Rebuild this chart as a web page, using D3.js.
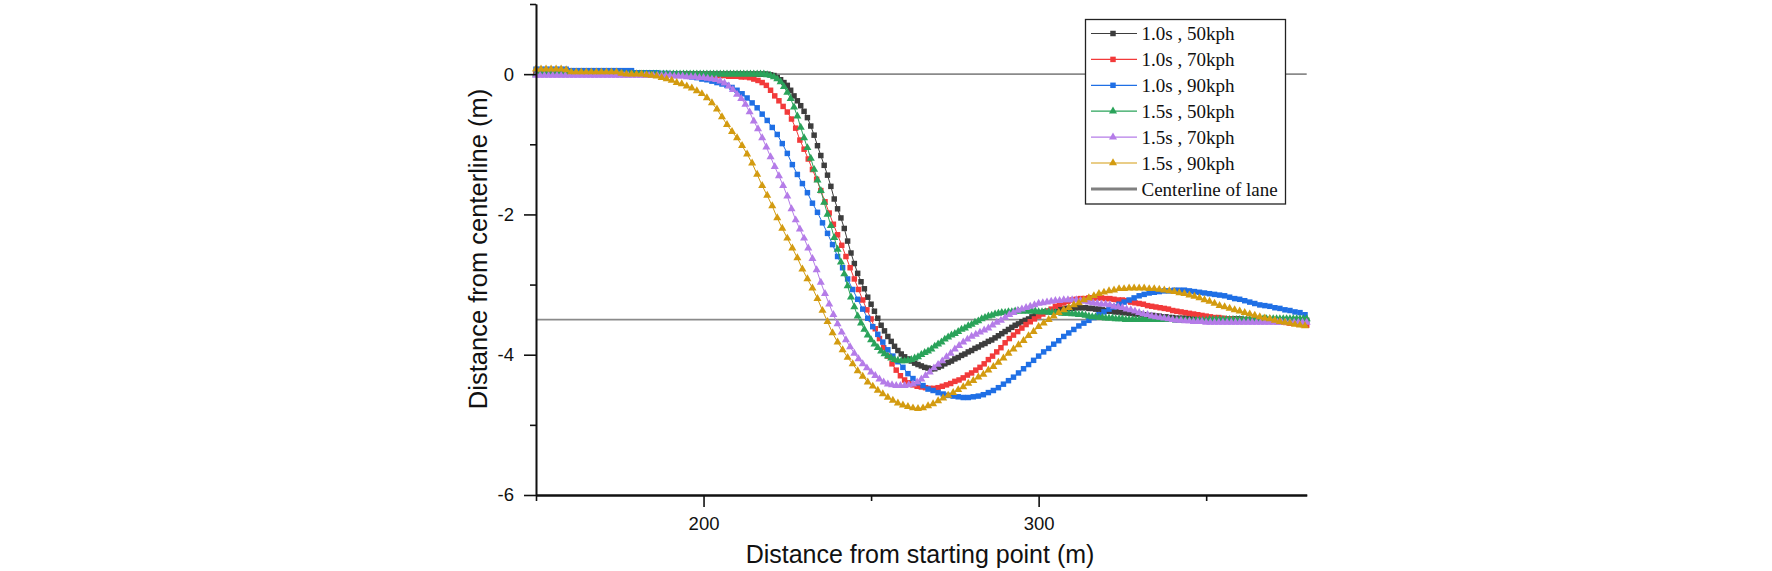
<!DOCTYPE html>
<html><head><meta charset="utf-8">
<script src="https://cdn.jsdelivr.net/npm/d3@7"></script>
<style>
html,body{margin:0;padding:0;background:#fff;}
svg{display:block;}
</style>
</head><body>
<svg id="chart" width="1772" height="571"></svg>
<script>
// ---------- data ----------
const seriesNames = ["1.0s , 50kph","1.0s , 70kph","1.0s , 90kph","1.5s , 50kph","1.5s , 70kph","1.5s , 90kph"];
const seriesColors = ["#3d3d3d","#f23a3a","#1f6fe5","#2aa35a","#b57ce8","#d39b10"];
const seriesMarkers = ["square","square","square","triangle","triangle","triangle"];
const seriesXStart = [150,150,150,150,150,150];
const seriesXStep = [1,1.25,1.5,1,1.25,1.5];
const centerlineValues = [0,-3.5];
const xMajorTicks = [200,300];
const xMinorTicks = [150,250,350];
const yMajorTicks = [-6,-4,-2,0];
const yMinorTicks = [-5,-3,-1,1];

const y_10_50 = [
0,0,0,0,0,0,0,0,0,0, 0,0,0,0,0,0,0,0,0,0, 0,0,0,0,0,0,0,0,0,0, 0,0,0,0,0,0,0,0,0,0,
0,0,0,0,0,0,0,0,0,0, 0,0,0,0,0,0,0,0,0,0, 0,0,0,0,0,0,0,0,0,0,
-0.01,-0.02,-0.05,-0.08,-0.12,-0.16,-0.23,-0.31,-0.38,-0.45,
-0.53,-0.62,-0.74,-0.87,-1.02,-1.16,-1.30,-1.44,-1.60,-1.78,
-1.92,-2.05,-2.20,-2.38,-2.55,-2.70,-2.84,-2.96,-3.06,-3.18,
-3.28,-3.38,-3.48,-3.58,-3.66,-3.74,-3.81,-3.88,-3.94,-3.99,
-4.03,-4.06,-4.09,-4.12,-4.14,-4.16,-4.18,-4.19,-4.20,-4.20,
-4.18,-4.16,-4.13,-4.11,-4.09,-4.06,-4.04,-4.01,-3.99,-3.96,
-3.94,-3.91,-3.89,-3.86,-3.84,-3.81,-3.79,-3.76,-3.73,-3.70,
-3.67,-3.64,-3.61,-3.58,-3.56,-3.53,-3.51,-3.49,-3.46,-3.44,
-3.42,-3.40,-3.39,-3.38,-3.37,-3.36,-3.35,-3.35,-3.34,-3.34,
-3.34,-3.33,-3.33,-3.33,-3.33,-3.34,-3.34,-3.35,-3.35,-3.36,
-3.37,-3.38,-3.38,-3.39,-3.39,-3.40,-3.40,-3.41,-3.41,-3.42,
-3.42,-3.43,-3.43,-3.44,-3.44,-3.45,-3.45,-3.46,-3.46,-3.47,
-3.47,-3.48,-3.48,-3.48,-3.48,-3.48,-3.48,-3.48,-3.48,-3.48,
-3.48,-3.49,-3.49,-3.49,-3.49,-3.49,-3.49,-3.49,-3.49,-3.49,
-3.49,-3.50,-3.50,-3.50,-3.50,-3.50,-3.50,-3.50,-3.50,-3.50,
-3.50,-3.51,-3.51,-3.51,-3.51,-3.51,-3.51,-3.51,-3.51,-3.51,
-3.51];

const y_10_70 = [
0,0,0,0,0,0,0,0, 0,0,0,0,0,0,0,0, 0,0,0,0,0,0,0,0, 0,0,0,0,0,0,0,0,
0,-0.01,-0.01,-0.01,-0.01,-0.01,-0.01,-0.01,
-0.01,-0.01,-0.01,-0.02,-0.02,-0.02,-0.03,-0.03,
-0.03,-0.04,-0.04,-0.05,-0.07,-0.09,-0.12,-0.16,
-0.23,-0.31,-0.38,-0.46,-0.54,-0.64,-0.77,-0.94,
-1.07,-1.21,-1.36,-1.50,-1.66,-1.82,-1.98,-2.14,
-2.29,-2.44,-2.60,-2.76,-2.92,-3.07,-3.22,-3.36,
-3.49,-3.63,-3.77,-3.90,-4.02,-4.13,-4.22,-4.30,
-4.36,-4.40,-4.43,-4.45,-4.46,-4.47,-4.48,-4.48,
-4.47,-4.45,-4.43,-4.41,-4.38,-4.36,-4.33,-4.29,
-4.26,-4.22,-4.18,-4.13,-4.07,-4.02,-3.96,-3.90,
-3.83,-3.77,-3.72,-3.67,-3.62,-3.57,-3.53,-3.49,
-3.45,-3.42,-3.38,-3.35,-3.31,-3.28,-3.26,-3.24,
-3.22,-3.21,-3.20,-3.20,-3.19,-3.19,-3.19,-3.19,
-3.20,-3.20,-3.21,-3.22,-3.22,-3.23,-3.25,-3.26,
-3.27,-3.28,-3.30,-3.31,-3.32,-3.33,-3.34,-3.35,
-3.37,-3.38,-3.39,-3.40,-3.41,-3.42,-3.43,-3.44,
-3.45,-3.46,-3.47,-3.47,-3.48,-3.49,-3.49,-3.50,
-3.50,-3.50,-3.50,-3.51,-3.51,-3.51,-3.52,-3.52,
-3.52,-3.53,-3.53,-3.54,-3.55,-3.55,-3.56,-3.57,
-3.58];

const y_10_90 = [
0.07,0.07,0.07,0.07,0.07,0.07,0.07,0.05,0.05,0.05,
0.05,0.05,0.05,0.05,0.05,0.05,0.05,0.05,0.05,0.05,
0.02,0.02,0.02,0.02,0.02,0.01,0.01,0.00,0.00,-0.01,
-0.02,-0.04,-0.05,-0.07,-0.08,-0.10,-0.12,-0.14,-0.16,-0.19,
-0.23,-0.28,-0.34,-0.41,-0.48,-0.57,-0.66,-0.76,-0.86,-0.99,
-1.13,-1.29,-1.43,-1.56,-1.69,-1.84,-1.97,-2.12,-2.27,-2.43,
-2.60,-2.76,-2.92,-3.07,-3.21,-3.35,-3.48,-3.60,-3.71,-3.82,
-3.93,-4.02,-4.10,-4.18,-4.27,-4.34,-4.40,-4.44,-4.49,-4.51,
-4.54,-4.56,-4.58,-4.59,-4.60,-4.61,-4.61,-4.60,-4.59,-4.57,
-4.54,-4.51,-4.47,-4.42,-4.37,-4.32,-4.26,-4.20,-4.14,-4.08,
-4.02,-3.96,-3.91,-3.85,-3.80,-3.74,-3.69,-3.64,-3.59,-3.55,
-3.51,-3.47,-3.43,-3.39,-3.35,-3.32,-3.28,-3.25,-3.22,-3.19,
-3.16,-3.14,-3.12,-3.11,-3.10,-3.09,-3.09,-3.08,-3.08,-3.08,
-3.09,-3.10,-3.11,-3.12,-3.13,-3.14,-3.15,-3.16,-3.18,-3.20,
-3.21,-3.23,-3.25,-3.27,-3.29,-3.30,-3.31,-3.33,-3.34,-3.36,
-3.37,-3.39,-3.40,-3.43];

const y_15_50 = [
0,0,0,0,0,0,0,0,0,0, 0,0,0,0,0,0,0,0,0,0, 0,0,0,0,0,0,0,0,0,0,
0,0,0,0,0,0,0,0,0,0, 0,0,0,0,0,0,0,0,0,0, 0,0,0,0,0,0,0,0,0,0,
0,0,0,0,0,0,0,0,0,-0.01,
-0.02,-0.04,-0.07,-0.11,-0.18,-0.26,-0.35,-0.47,-0.60,-0.76,
-0.91,-1.05,-1.20,-1.36,-1.51,-1.66,-1.83,-2.00,-2.16,-2.33,
-2.50,-2.68,-2.85,-3.02,-3.18,-3.32,-3.45,-3.55,-3.64,-3.72,
-3.79,-3.85,-3.90,-3.95,-3.99,-4.02,-4.05,-4.07,-4.08,-4.09,
-4.09,-4.08,-4.07,-4.05,-4.03,-4.00,-3.97,-3.95,-3.92,-3.88,
-3.85,-3.82,-3.78,-3.75,-3.72,-3.70,-3.67,-3.64,-3.62,-3.59,
-3.57,-3.54,-3.52,-3.49,-3.47,-3.45,-3.44,-3.42,-3.41,-3.40,
-3.40,-3.39,-3.39,-3.38,-3.38,-3.38,-3.38,-3.38,-3.38,-3.38,
-3.39,-3.39,-3.39,-3.39,-3.40,-3.40,-3.40,-3.41,-3.41,-3.41,
-3.42,-3.42,-3.43,-3.43,-3.44,-3.45,-3.46,-3.46,-3.47,-3.47,
-3.48,-3.48,-3.48,-3.49,-3.49,-3.49,-3.50,-3.50,-3.50,-3.50,
-3.50,-3.50,-3.50,-3.50,-3.50,-3.50,-3.50,-3.50,-3.50,-3.50,
-3.50,-3.51,-3.51,-3.51,-3.51,-3.51,-3.51,-3.51,-3.51,-3.51,
-3.51,-3.50,-3.50,-3.50,-3.50,-3.50,-3.50,-3.50,-3.50,-3.50,
-3.50,-3.50,-3.50,-3.50,-3.50,-3.50,-3.49,-3.49,-3.49,-3.49,
-3.49,-3.49,-3.49,-3.49,-3.49,-3.49,-3.49,-3.49,-3.49,-3.49,
-3.49];

const y_15_70 = [
-0.02,-0.02,-0.02,-0.02,-0.02,-0.02,-0.02,-0.02,
-0.02,-0.02,-0.02,-0.02,-0.02,-0.02,-0.02,-0.02,
-0.02,-0.02,-0.02,-0.02,-0.02,-0.02,-0.02,-0.02,
-0.02,-0.02,-0.02,-0.02,-0.02,-0.02,-0.02,-0.02,
-0.02,-0.03,-0.03,-0.03,-0.04,-0.04,-0.04,-0.05,
-0.05,-0.06,-0.07,-0.08,-0.10,-0.13,-0.17,-0.22,
-0.29,-0.35,-0.43,-0.54,-0.67,-0.78,-0.91,-1.04,
-1.18,-1.32,-1.45,-1.59,-1.74,-1.92,-2.08,-2.21,
-2.34,-2.48,-2.63,-2.79,-2.97,-3.13,-3.28,-3.43,
-3.56,-3.68,-3.79,-3.89,-3.98,-4.06,-4.13,-4.19,
-4.25,-4.30,-4.35,-4.39,-4.42,-4.43,-4.44,-4.44,
-4.44,-4.43,-4.42,-4.39,-4.35,-4.30,-4.25,-4.19,
-4.14,-4.09,-4.03,-3.98,-3.92,-3.87,-3.82,-3.78,
-3.74,-3.71,-3.68,-3.65,-3.62,-3.58,-3.54,-3.51,
-3.47,-3.43,-3.40,-3.37,-3.35,-3.33,-3.31,-3.29,
-3.27,-3.26,-3.25,-3.24,-3.23,-3.23,-3.22,-3.22,
-3.22,-3.22,-3.23,-3.24,-3.25,-3.26,-3.27,-3.28,
-3.28,-3.29,-3.31,-3.32,-3.33,-3.35,-3.36,-3.38,
-3.40,-3.42,-3.43,-3.45,-3.46,-3.47,-3.48,-3.49,
-3.50,-3.51,-3.51,-3.52,-3.52,-3.53,-3.53,-3.53,
-3.54,-3.54,-3.54,-3.54,-3.54,-3.54,-3.54,-3.54,
-3.54,-3.54,-3.54,-3.54,-3.54,-3.54,-3.54,-3.54,
-3.54,-3.54,-3.54,-3.54,-3.54,-3.54,-3.54,-3.54,
-3.54];

const y_15_90 = [
0.07,0.07,0.07,0.07,0.07,0.07,0.06,0.03,0.03,0.03,
0.03,0.03,0.03,0.03,0.03,0.03,0.03,0.01,0.00,0.00,
0.00,0.00,-0.01,-0.02,-0.03,-0.05,-0.07,-0.09,-0.12,-0.14,
-0.17,-0.20,-0.24,-0.28,-0.34,-0.41,-0.50,-0.61,-0.72,-0.82,
-0.91,-1.02,-1.14,-1.27,-1.43,-1.59,-1.73,-1.88,-2.05,-2.20,
-2.34,-2.48,-2.62,-2.78,-2.92,-3.05,-3.20,-3.37,-3.53,-3.69,
-3.82,-3.93,-4.04,-4.13,-4.23,-4.31,-4.39,-4.45,-4.51,-4.56,
-4.61,-4.65,-4.69,-4.72,-4.74,-4.76,-4.77,-4.76,-4.73,-4.70,
-4.66,-4.62,-4.58,-4.54,-4.50,-4.46,-4.41,-4.37,-4.32,-4.28,
-4.22,-4.17,-4.11,-4.05,-3.98,-3.92,-3.86,-3.80,-3.73,-3.67,
-3.60,-3.55,-3.50,-3.45,-3.40,-3.36,-3.33,-3.29,-3.26,-3.22,
-3.19,-3.16,-3.13,-3.11,-3.09,-3.08,-3.06,-3.06,-3.05,-3.05,
-3.05,-3.05,-3.06,-3.06,-3.07,-3.08,-3.09,-3.10,-3.12,-3.13,
-3.15,-3.17,-3.19,-3.22,-3.24,-3.27,-3.30,-3.32,-3.34,-3.36,
-3.38,-3.40,-3.42,-3.44,-3.46,-3.48,-3.49,-3.51,-3.53,-3.54,
-3.55,-3.57,-3.58,-3.59];

const seriesValues = [y_10_50, y_10_70, y_10_90, y_15_50, y_15_70, y_15_90];

// ---------- layout ----------
const svg = d3.select("#chart");
const x = d3.scaleLinear().domain([150, 380]).range([536, 1306.7]);
const y = d3.scaleLinear().domain([-6, 1]).range([495, 4]);

const series = seriesValues.map((vals, k) => ({
  name: seriesNames[k], color: seriesColors[k], marker: seriesMarkers[k],
  points: vals.map((v, i) => ({x: seriesXStart[k] + i * seriesXStep[k], y: v}))
}));

// centerlines
svg.append("g").selectAll("line").data(centerlineValues).join("line")
  .attr("x1", x(150)).attr("x2", x(380))
  .attr("y1", d => y(d)).attr("y2", d => y(d))
  .attr("stroke", "#8a8a8a").attr("stroke-width", 1.6);

// series
const line = d3.line().x(d => x(d.x)).y(d => y(d.y));
const sqSym = d3.symbol().type(d3.symbolSquare).size(30);
const triSym = d3.symbol().type(d3.symbolTriangle).size(28);
series.forEach(s => {
  const g = svg.append("g");
  g.append("path").datum(s.points).attr("d", line)
    .attr("fill", "none").attr("stroke", s.color).attr("stroke-width", 1);
  g.selectAll("path.m").data(s.points).join("path").attr("class", "m")
    .attr("transform", d => `translate(${x(d.x)},${y(d.y)})`)
    .attr("d", s.marker === "square" ? sqSym() : triSym())
    .attr("fill", s.color);
});

// axes
const fontAx = "'Liberation Sans', Arial, sans-serif";
const fmt = d => String(d);
const xAxisMajor = d3.axisBottom(x).tickValues(xMajorTicks).tickSize(12).tickSizeOuter(0).tickPadding(10).tickFormat(fmt);
const xAxisMinor = d3.axisBottom(x).tickValues(xMinorTicks).tickSize(6).tickSizeOuter(0).tickFormat("");
const yAxisMajor = d3.axisLeft(y).tickValues(yMajorTicks).tickSize(12).tickSizeOuter(0).tickPadding(10).tickFormat(fmt);
const yAxisMinor = d3.axisLeft(y).tickValues(yMinorTicks).tickSize(6).tickSizeOuter(0).tickFormat("");

function styleAxis(g, w) {
  g.selectAll("path.domain").attr("stroke", "#111").attr("stroke-width", w);
  g.selectAll(".tick line").attr("stroke", "#111").attr("stroke-width", 1.6);
  g.selectAll("text").attr("font-family", fontAx).attr("font-size", 18.5).attr("fill", "#111");
}
svg.append("g").attr("transform", "translate(0,495)").call(xAxisMinor).call(g => styleAxis(g, 2.2));
svg.append("g").attr("transform", "translate(0,495)").call(xAxisMajor).call(g => styleAxis(g, 2.2));
svg.append("g").attr("transform", "translate(536,0)").call(yAxisMinor).call(g => styleAxis(g, 1.6));
svg.append("g").attr("transform", "translate(536,0)").call(yAxisMajor).call(g => styleAxis(g, 1.6));
svg.selectAll("text").attr("font-family", fontAx);

// axis titles
svg.append("text").attr("x", 920).attr("y", 563).attr("text-anchor", "middle")
  .attr("font-family", fontAx).attr("font-size", 25).attr("fill", "#111")
  .text("Distance from starting point (m)");
svg.append("text").attr("transform", "translate(487,249) rotate(-90)").attr("text-anchor", "middle")
  .attr("font-family", fontAx).attr("font-size", 25.5).attr("fill", "#111")
  .text("Distance from centerline (m)");

// legend
const lg = svg.append("g");
lg.append("rect").attr("x", 1085.5).attr("y", 19.5).attr("width", 200).attr("height", 184.5)
  .attr("fill", "#fff").attr("stroke", "#222").attr("stroke-width", 1.3);
const legendItems = series.map(s => ({name: s.name, color: s.color, marker: s.marker}))
  .concat([{name: "Centerline of lane", color: "#808080", marker: null}]);
legendItems.forEach((it, i) => {
  const cy = 33.5 + i * 25.9;
  lg.append("line").attr("x1", 1091).attr("x2", 1137).attr("y1", cy).attr("y2", cy)
    .attr("stroke", it.color).attr("stroke-width", it.marker ? 1.2 : 3);
  if (it.marker) {
    lg.append("path").attr("transform", `translate(1113,${cy})`)
      .attr("d", it.marker === "square" ? sqSym() : triSym()).attr("fill", it.color);
  }
  lg.append("text").attr("x", 1141.5).attr("y", cy).attr("dy", "0.35em")
    .attr("font-family", "'Liberation Serif', 'Times New Roman', serif").attr("font-size", 19)
    .attr("fill", "#111").text(it.name);
});
</script>
</body></html>
